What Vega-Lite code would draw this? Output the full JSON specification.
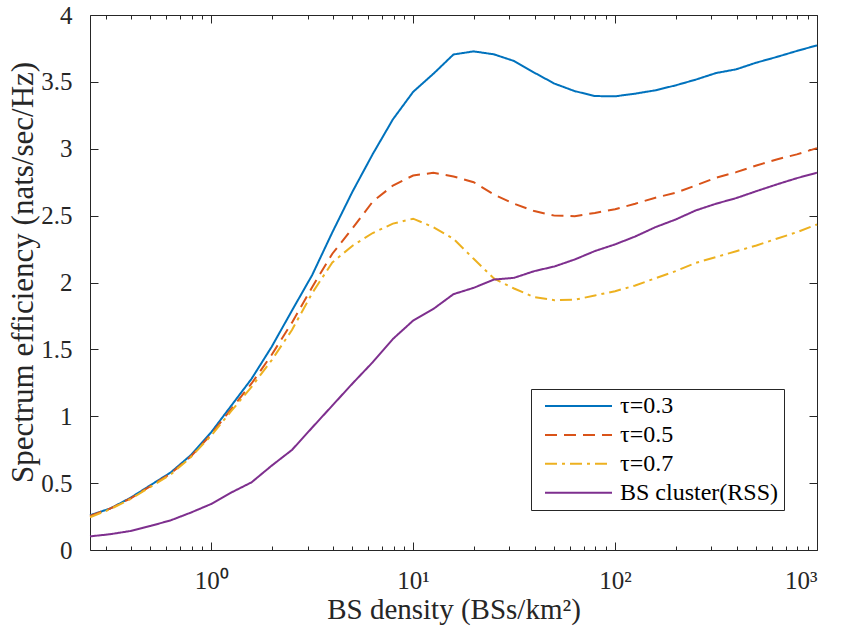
{
  "$schema": "https://vega.github.io/schema/vega-lite/v6.json",
  "width": 727,
  "height": 535,
  "autosize": {"type": "none"},
  "padding": {"left": 90, "top": 15, "right": 24, "bottom": 94},
  "background": "white",
  "config": {
    "view": {"stroke": null},
    "font": "Liberation Serif",
    "axis": {
      "grid": false,
      "domainColor": "#262626",
      "domainWidth": 1,
      "tickColor": "#262626",
      "tickWidth": 1,
      "labelFont": "Liberation Serif",
      "labelFontSize": 25,
      "labelColor": "#262626",
      "titleFont": "Liberation Serif",
      "titleFontWeight": "normal",
      "titleColor": "#262626"
    },
    "legend": {
      "orient": "none",
      "legendX": 441,
      "legendY": 374,
      "symbolType": "stroke",
      "symbolSize": 4489,
      "symbolStrokeWidth": 2,
      "labelFont": "Liberation Serif",
      "labelFontSize": 24,
      "labelColor": "#000000",
      "strokeColor": "#262626",
      "fillColor": "white",
      "padding": 5,
      "clipHeight": 24,
      "rowPadding": 4.9,
      "symbolOffset": 8,
      "labelOffset": 7
    }
  },
  "data": {
    "values": [
      {"x": 0.2512, "y": 0.26, "s": "τ=0.3"},
      {"x": 0.3162, "y": 0.31, "s": "τ=0.3"},
      {"x": 0.3981, "y": 0.39, "s": "τ=0.3"},
      {"x": 0.5012, "y": 0.485, "s": "τ=0.3"},
      {"x": 0.631, "y": 0.58, "s": "τ=0.3"},
      {"x": 0.7943, "y": 0.71, "s": "τ=0.3"},
      {"x": 1, "y": 0.88, "s": "τ=0.3"},
      {"x": 1.259, "y": 1.08, "s": "τ=0.3"},
      {"x": 1.585, "y": 1.28, "s": "τ=0.3"},
      {"x": 1.995, "y": 1.52, "s": "τ=0.3"},
      {"x": 2.512, "y": 1.79, "s": "τ=0.3"},
      {"x": 3.162, "y": 2.055, "s": "τ=0.3"},
      {"x": 3.981, "y": 2.375, "s": "τ=0.3"},
      {"x": 5.012, "y": 2.68, "s": "τ=0.3"},
      {"x": 6.31, "y": 2.96, "s": "τ=0.3"},
      {"x": 7.943, "y": 3.22, "s": "τ=0.3"},
      {"x": 10, "y": 3.425, "s": "τ=0.3"},
      {"x": 12.59, "y": 3.56, "s": "τ=0.3"},
      {"x": 15.85, "y": 3.705, "s": "τ=0.3"},
      {"x": 19.95, "y": 3.728, "s": "τ=0.3"},
      {"x": 25.12, "y": 3.706, "s": "τ=0.3"},
      {"x": 31.62, "y": 3.656, "s": "τ=0.3"},
      {"x": 39.81, "y": 3.569, "s": "τ=0.3"},
      {"x": 50.12, "y": 3.487, "s": "τ=0.3"},
      {"x": 63.1, "y": 3.431, "s": "τ=0.3"},
      {"x": 79.43, "y": 3.394, "s": "τ=0.3"},
      {"x": 100, "y": 3.392, "s": "τ=0.3"},
      {"x": 125.9, "y": 3.412, "s": "τ=0.3"},
      {"x": 158.5, "y": 3.437, "s": "τ=0.3"},
      {"x": 199.5, "y": 3.474, "s": "τ=0.3"},
      {"x": 251.2, "y": 3.517, "s": "τ=0.3"},
      {"x": 316.2, "y": 3.566, "s": "τ=0.3"},
      {"x": 398.1, "y": 3.594, "s": "τ=0.3"},
      {"x": 501.2, "y": 3.644, "s": "τ=0.3"},
      {"x": 631, "y": 3.686, "s": "τ=0.3"},
      {"x": 794.3, "y": 3.731, "s": "τ=0.3"},
      {"x": 1000, "y": 3.773, "s": "τ=0.3"},

      {"x": 0.2512, "y": 0.255, "s": "τ=0.5"},
      {"x": 0.3162, "y": 0.31, "s": "τ=0.5"},
      {"x": 0.3981, "y": 0.385, "s": "τ=0.5"},
      {"x": 0.5012, "y": 0.478, "s": "τ=0.5"},
      {"x": 0.631, "y": 0.572, "s": "τ=0.5"},
      {"x": 0.7943, "y": 0.70, "s": "τ=0.5"},
      {"x": 1, "y": 0.865, "s": "τ=0.5"},
      {"x": 1.259, "y": 1.055, "s": "τ=0.5"},
      {"x": 1.585, "y": 1.245, "s": "τ=0.5"},
      {"x": 1.995, "y": 1.46, "s": "τ=0.5"},
      {"x": 2.512, "y": 1.70, "s": "τ=0.5"},
      {"x": 3.162, "y": 1.965, "s": "τ=0.5"},
      {"x": 3.981, "y": 2.215, "s": "τ=0.5"},
      {"x": 5.012, "y": 2.405, "s": "τ=0.5"},
      {"x": 6.31, "y": 2.605, "s": "τ=0.5"},
      {"x": 7.943, "y": 2.725, "s": "τ=0.5"},
      {"x": 10, "y": 2.80, "s": "τ=0.5"},
      {"x": 12.59, "y": 2.82, "s": "τ=0.5"},
      {"x": 15.85, "y": 2.793, "s": "τ=0.5"},
      {"x": 19.95, "y": 2.75, "s": "τ=0.5"},
      {"x": 25.12, "y": 2.658, "s": "τ=0.5"},
      {"x": 31.62, "y": 2.589, "s": "τ=0.5"},
      {"x": 39.81, "y": 2.534, "s": "τ=0.5"},
      {"x": 50.12, "y": 2.50, "s": "τ=0.5"},
      {"x": 63.1, "y": 2.496, "s": "τ=0.5"},
      {"x": 79.43, "y": 2.52, "s": "τ=0.5"},
      {"x": 100, "y": 2.548, "s": "τ=0.5"},
      {"x": 125.9, "y": 2.589, "s": "τ=0.5"},
      {"x": 158.5, "y": 2.634, "s": "τ=0.5"},
      {"x": 199.5, "y": 2.671, "s": "τ=0.5"},
      {"x": 251.2, "y": 2.726, "s": "τ=0.5"},
      {"x": 316.2, "y": 2.783, "s": "τ=0.5"},
      {"x": 398.1, "y": 2.825, "s": "τ=0.5"},
      {"x": 501.2, "y": 2.875, "s": "τ=0.5"},
      {"x": 631, "y": 2.92, "s": "τ=0.5"},
      {"x": 794.3, "y": 2.958, "s": "τ=0.5"},
      {"x": 1000, "y": 3.005, "s": "τ=0.5"},

      {"x": 0.2512, "y": 0.245, "s": "τ=0.7"},
      {"x": 0.3162, "y": 0.305, "s": "τ=0.7"},
      {"x": 0.3981, "y": 0.38, "s": "τ=0.7"},
      {"x": 0.5012, "y": 0.472, "s": "τ=0.7"},
      {"x": 0.631, "y": 0.565, "s": "τ=0.7"},
      {"x": 0.7943, "y": 0.695, "s": "τ=0.7"},
      {"x": 1, "y": 0.855, "s": "τ=0.7"},
      {"x": 1.259, "y": 1.04, "s": "τ=0.7"},
      {"x": 1.585, "y": 1.22, "s": "τ=0.7"},
      {"x": 1.995, "y": 1.42, "s": "τ=0.7"},
      {"x": 2.512, "y": 1.645, "s": "τ=0.7"},
      {"x": 3.162, "y": 1.92, "s": "τ=0.7"},
      {"x": 3.981, "y": 2.15, "s": "τ=0.7"},
      {"x": 5.012, "y": 2.275, "s": "τ=0.7"},
      {"x": 6.31, "y": 2.37, "s": "τ=0.7"},
      {"x": 7.943, "y": 2.44, "s": "τ=0.7"},
      {"x": 10, "y": 2.477, "s": "τ=0.7"},
      {"x": 12.59, "y": 2.414, "s": "τ=0.7"},
      {"x": 15.85, "y": 2.327, "s": "τ=0.7"},
      {"x": 19.95, "y": 2.177, "s": "τ=0.7"},
      {"x": 25.12, "y": 2.03, "s": "τ=0.7"},
      {"x": 31.62, "y": 1.955, "s": "τ=0.7"},
      {"x": 39.81, "y": 1.89, "s": "τ=0.7"},
      {"x": 50.12, "y": 1.868, "s": "τ=0.7"},
      {"x": 63.1, "y": 1.871, "s": "τ=0.7"},
      {"x": 79.43, "y": 1.903, "s": "τ=0.7"},
      {"x": 100, "y": 1.935, "s": "τ=0.7"},
      {"x": 125.9, "y": 1.978, "s": "τ=0.7"},
      {"x": 158.5, "y": 2.032, "s": "τ=0.7"},
      {"x": 199.5, "y": 2.085, "s": "τ=0.7"},
      {"x": 251.2, "y": 2.147, "s": "τ=0.7"},
      {"x": 316.2, "y": 2.19, "s": "τ=0.7"},
      {"x": 398.1, "y": 2.234, "s": "τ=0.7"},
      {"x": 501.2, "y": 2.277, "s": "τ=0.7"},
      {"x": 631, "y": 2.327, "s": "τ=0.7"},
      {"x": 794.3, "y": 2.376, "s": "τ=0.7"},
      {"x": 1000, "y": 2.434, "s": "τ=0.7"},

      {"x": 0.2512, "y": 0.102, "s": "BS cluster(RSS)"},
      {"x": 0.3162, "y": 0.118, "s": "BS cluster(RSS)"},
      {"x": 0.3981, "y": 0.142, "s": "BS cluster(RSS)"},
      {"x": 0.5012, "y": 0.18, "s": "BS cluster(RSS)"},
      {"x": 0.631, "y": 0.222, "s": "BS cluster(RSS)"},
      {"x": 0.7943, "y": 0.28, "s": "BS cluster(RSS)"},
      {"x": 1, "y": 0.344, "s": "BS cluster(RSS)"},
      {"x": 1.259, "y": 0.43, "s": "BS cluster(RSS)"},
      {"x": 1.585, "y": 0.506, "s": "BS cluster(RSS)"},
      {"x": 1.995, "y": 0.631, "s": "BS cluster(RSS)"},
      {"x": 2.512, "y": 0.748, "s": "BS cluster(RSS)"},
      {"x": 3.162, "y": 0.915, "s": "BS cluster(RSS)"},
      {"x": 3.981, "y": 1.08, "s": "BS cluster(RSS)"},
      {"x": 5.012, "y": 1.245, "s": "BS cluster(RSS)"},
      {"x": 6.31, "y": 1.404, "s": "BS cluster(RSS)"},
      {"x": 7.943, "y": 1.578, "s": "BS cluster(RSS)"},
      {"x": 10, "y": 1.715, "s": "BS cluster(RSS)"},
      {"x": 12.59, "y": 1.802, "s": "BS cluster(RSS)"},
      {"x": 15.85, "y": 1.913, "s": "BS cluster(RSS)"},
      {"x": 19.95, "y": 1.96, "s": "BS cluster(RSS)"},
      {"x": 25.12, "y": 2.022, "s": "BS cluster(RSS)"},
      {"x": 31.62, "y": 2.035, "s": "BS cluster(RSS)"},
      {"x": 39.81, "y": 2.085, "s": "BS cluster(RSS)"},
      {"x": 50.12, "y": 2.12, "s": "BS cluster(RSS)"},
      {"x": 63.1, "y": 2.172, "s": "BS cluster(RSS)"},
      {"x": 79.43, "y": 2.235, "s": "BS cluster(RSS)"},
      {"x": 100, "y": 2.285, "s": "BS cluster(RSS)"},
      {"x": 125.9, "y": 2.344, "s": "BS cluster(RSS)"},
      {"x": 158.5, "y": 2.414, "s": "BS cluster(RSS)"},
      {"x": 199.5, "y": 2.471, "s": "BS cluster(RSS)"},
      {"x": 251.2, "y": 2.539, "s": "BS cluster(RSS)"},
      {"x": 316.2, "y": 2.589, "s": "BS cluster(RSS)"},
      {"x": 398.1, "y": 2.631, "s": "BS cluster(RSS)"},
      {"x": 501.2, "y": 2.683, "s": "BS cluster(RSS)"},
      {"x": 631, "y": 2.733, "s": "BS cluster(RSS)"},
      {"x": 794.3, "y": 2.78, "s": "BS cluster(RSS)"},
      {"x": 1000, "y": 2.821, "s": "BS cluster(RSS)"}
    ]
  },
  "layer": [
    {
      "mark": {"type": "line", "strokeWidth": 2},
      "encoding": {
        "x": {
          "field": "x", "type": "quantitative",
          "scale": {"type": "log", "domain": [0.2512, 1000], "nice": false},
          "axis": {
            "orient": "bottom",
            "values": [1, 10, 100, 1000],
            "tickSize": -8,
            "labelPadding": 26,
            "labelExpr": "datum.value == 1 ? '10⁰' : datum.value == 10 ? '10¹' : datum.value == 100 ? '10²' : '10³'",
            "title": "BS density (BSs/km²)",
            "titleFontSize": 29,
            "titleBaseline": "alphabetic",
            "titleY": 68
          }
        },
        "y": {
          "field": "y", "type": "quantitative",
          "scale": {"domain": [0, 4], "nice": false},
          "axis": {
            "orient": "left",
            "values": [0, 0.5, 1, 1.5, 2, 2.5, 3, 3.5, 4],
            "format": "~g",
            "tickSize": -8,
            "labelPadding": 26,
            "title": "Spectrum efficiency (nats/sec/Hz)",
            "titleFontSize": 31,
            "titleBaseline": "alphabetic",
            "titleX": -58,
            "titleY": 257
          }
        },
        "color": {
          "field": "s", "type": "nominal",
          "scale": {
            "domain": ["τ=0.3", "τ=0.5", "τ=0.7", "BS cluster(RSS)"],
            "range": ["#0072BD", "#D95319", "#EDB120", "#7E2F8E"]
          },
          "legend": {"title": null}
        },
        "strokeDash": {
          "field": "s", "type": "nominal",
          "scale": {
            "domain": ["τ=0.3", "τ=0.5", "τ=0.7", "BS cluster(RSS)"],
            "range": [[1, 0], [12, 7], [12, 5, 3, 5], [1, 0]]
          },
          "legend": {"title": null}
        }
      }
    },
    {
      "mark": {"type": "point", "opacity": 0},
      "encoding": {
        "x": {
          "field": "x", "type": "quantitative",
          "axis": {"orient": "top", "values": [1, 10, 100, 1000], "tickSize": -8, "labels": false, "title": null}
        },
        "y": {
          "field": "y", "type": "quantitative",
          "axis": {"orient": "right", "values": [0, 0.5, 1, 1.5, 2, 2.5, 3, 3.5, 4], "tickSize": -8, "labels": false, "title": null}
        }
      }
    },
    {
      "mark": {"type": "point", "opacity": 0},
      "encoding": {
        "x": {
          "field": "x", "type": "quantitative",
          "axis": {"orient": "bottom", "values": [0.3, 0.4, 0.5, 0.6, 0.7, 0.8, 0.9, 2, 3, 4, 5, 6, 7, 8, 9, 20, 30, 40, 50, 60, 70, 80, 90, 200, 300, 400, 500, 600, 700, 800, 900], "tickSize": -4, "labels": false, "domain": false, "title": null}
        },
        "y": {"field": "y", "type": "quantitative", "axis": null}
      }
    },
    {
      "mark": {"type": "point", "opacity": 0},
      "encoding": {
        "x": {
          "field": "x", "type": "quantitative",
          "axis": {"orient": "top", "values": [0.3, 0.4, 0.5, 0.6, 0.7, 0.8, 0.9, 2, 3, 4, 5, 6, 7, 8, 9, 20, 30, 40, 50, 60, 70, 80, 90, 200, 300, 400, 500, 600, 700, 800, 900], "tickSize": -4, "labels": false, "domain": false, "title": null}
        },
        "y": {"field": "y", "type": "quantitative", "axis": null}
      }
    }
  ],
  "resolve": {"axis": {"x": "independent", "y": "independent"}}
}
